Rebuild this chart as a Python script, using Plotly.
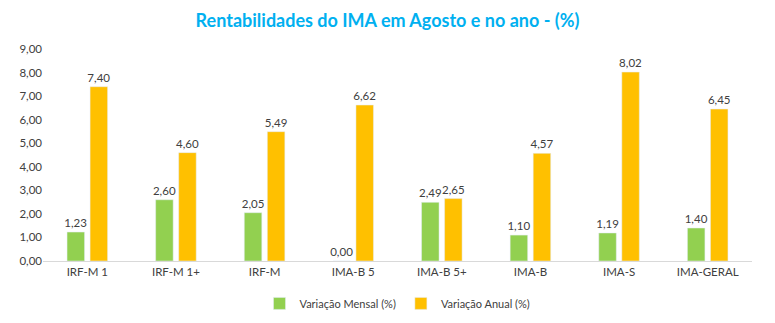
import plotly.graph_objects as go

categories = ["IRF-M 1", "IRF-M 1+", "IRF-M", "IMA-B 5", "IMA-B 5+", "IMA-B", "IMA-S", "IMA-GERAL"]
variacao_mensal = [1.23, 2.60, 2.05, 0.00, 2.49, 1.10, 1.19, 1.40]
variacao_anual = [7.40, 4.60, 5.49, 6.62, 2.65, 4.57, 8.02, 6.45]

font_family = "Lato, Open Sans, sans-serif"
text_color = "#404040"

fig = go.Figure()
fig.add_trace(go.Bar(
    name="Variação Mensal (%)", x=categories, y=variacao_mensal,
    marker_color="#92D050", text=[f"{v:.2f}".replace(".", ",") for v in variacao_mensal],
    textposition="outside", cliponaxis=False, constraintext="none",
    textfont=dict(size=11.5, color=text_color, family=font_family),
))
fig.add_trace(go.Bar(
    name="Variação Anual (%)", x=categories, y=variacao_anual,
    marker_color="#FFC000", text=[f"{v:.2f}".replace(".", ",") for v in variacao_anual],
    textposition="outside", cliponaxis=False, constraintext="none",
    textfont=dict(size=11.5, color=text_color, family=font_family),
))

fig.update_layout(
    width=775, height=323,
    margin=dict(l=43, r=23, t=49, b=62, autoexpand=False),
    paper_bgcolor="white", plot_bgcolor="white",
    separators=",.",
    barmode="group", bargap=0.48, bargroupgap=0.24,
    font=dict(family=font_family, size=11, color=text_color),
    title=dict(
        text="<b>Rentabilidades do IMA em Agosto e no ano - (%)</b>",
        x=0.5, xanchor="center", y=0.935, yanchor="middle",
        font=dict(size=18, color="#00B0F0", family=font_family),
    ),
    legend=dict(
        orientation="h", x=0.5, xanchor="center", y=-0.2, yanchor="middle",
        font=dict(size=11, color=text_color), itemwidth=30,
    ),
    xaxis=dict(
        showgrid=False, showline=True, linecolor="#D9D9D9", linewidth=1,
        ticks="", tickfont=dict(size=11.5, color=text_color),
    ),
    yaxis=dict(
        range=[0, 9], dtick=1, tickformat=".2f", showgrid=False,
        zeroline=False, showline=False, ticks="",
        tickfont=dict(size=11.5, color=text_color),
    ),
)

fig.write_html("out.html")
